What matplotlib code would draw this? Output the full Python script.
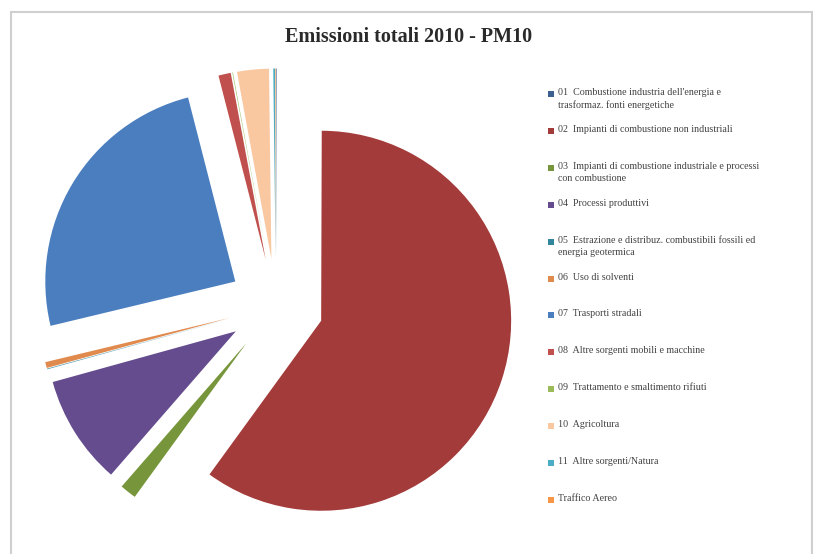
import numpy as np
import matplotlib
matplotlib.use("Agg")
from matplotlib import pyplot as plt
from matplotlib.patches import Rectangle

# data (percent of total PM10)
labels = [
    "01  Combustione industria dell'energia e\ntrasformaz. fonti energetiche",
    "02  Impianti di combustione non industriali",
    "03  Impianti di combustione industriale e processi\ncon combustione",
    "04  Processi produttivi",
    "05  Estrazione e distribuz. combustibili fossili ed\nenergia geotermica",
    "06  Uso di solventi",
    "07  Trasporti stradali",
    "08  Altre sorgenti mobili e macchine",
    "09  Trattamento e smaltimento rifiuti",
    "10  Agricoltura",
    "11  Altre sorgenti/Natura",
    "Traffico Aereo",
]
values = [0.05, 59.95, 1.4, 9.3, 0.05, 0.5, 24.75, 1.05, 0.05, 2.7, 0.15, 0.05]
colors = ["#3C6090", "#A33B3A", "#77963C", "#654C8E", "#31859C", "#E08A4E",
          "#4A7EBF", "#C0504D", "#9BBB59", "#FAC8A0", "#4BACC6", "#F79646"]

W, H = 813, 554
fig = plt.figure(figsize=(W / 100, H / 100), dpi=100)

def fx(px):
    return px / W

def fy(py):
    return 1 - py / H

# chart area border
fig.patches.append(Rectangle((fx(11), fy(560)), fx(801), 548 / H, transform=fig.transFigure,
                             fill=False, edgecolor="#CFCFCF", linewidth=1.5))

# pie: centre (276, 306) px, radius 190 px
cx, cy, r = 276, 306, 190
x0, x1 = -1.3, 1.3
y0, y1 = -1.3, 1.3
ax = fig.add_axes([fx(cx + x0 * r), fy(cy - y0 * r), (x1 - x0) * r / W, (y1 - y0) * r / H])
ax.pie(values, colors=colors, startangle=90, counterclock=False,
       explode=[0.25] * len(values), radius=1,
       wedgeprops=dict(linewidth=0))
ax.set_xlim(x0, x1)
ax.set_ylim(y0, y1)
ax.set_aspect("auto")
ax.axis("off")

fig.text(fx(409), fy(37), "Emissioni totali 2010 - PM10", ha="center", va="center",
         fontsize=14.5, fontweight="bold", family="Liberation Serif", color="#2a2a2a")

# legend
for i, (lab, col) in enumerate(zip(labels, colors)):
    ytop = 88 + i * 36.9
    fig.patches.append(Rectangle((fx(548), fy(ytop + 9)), 6 / W, 6 / H, transform=fig.transFigure,
                                 facecolor=col, edgecolor="none"))
    fig.text(fx(558), fy(ytop), lab, ha="left", va="top", fontsize=7.2,
             family="Liberation Serif", color="#404040", linespacing=1.45)

fig.savefig("out.png", dpi=100)
